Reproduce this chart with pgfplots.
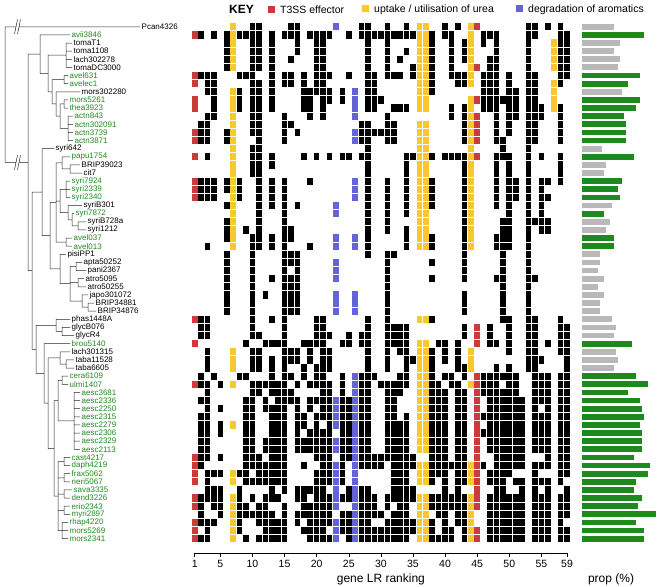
\documentclass[border=0pt]{standalone}
\usepackage{fontspec}
\setmainfont{Liberation Sans}
\usepackage{pgfplots}
\usepackage{pgfplotstable}
\pgfplotsset{compat=1.18}
\definecolor{tred}{HTML}{CC3B3B}
\definecolor{tyel}{HTML}{F7C92E}
\definecolor{tblu}{HTML}{6464D8}
\definecolor{lgreen}{HTML}{1E8A1E}
\definecolor{bgrey}{HTML}{B9B9B9}
\pgfdeclareplotmark{cell}{\pgfpathrectangle{\pgfqpoint{-2.8pt}{-3.65pt}}{\pgfqpoint{5.6pt}{7.3pt}}\pgfusepathqfill}
\newcommand{\lab}{\fontsize{8}{8}\selectfont}
\pgfplotstableread{
c1 c2 c3 c4 c5 c6 c7 c8 c9 c10 c11 c12 c13 c14 c15 c16 c17 c18 c19 c20 c21 c22 c23 c24 c25 c26 c27 c28 c29 c30 c31 c32 c33 c34 c35 c36 c37 c38 c39 c40 c41 c42 c43 c44 c45 c46 c47 c48 c49 c50 c51 c52 c53 c54 c55 c56 c57 c58 c59
0 0 0 0 0 0 1 0 0 1  1 0 0 0 0 1 1 0 0 0  0 0 1 0 0 0 1 1 0 0  1 0 0 1 0 1 1 0 0 1  0 1 0 1 1 0 0 0 0 0  0 0 1 1 0 1 0 1 0
1 1 0 1 0 1 1 1 1 1  1 0 1 0 1 1 1 0 1 1  1 1 0 0 1 0 1 1 1 1  1 1 1 1 1 1 1 1 0 1  1 0 0 1 0 1 1 1 0 0  0 0 1 1 0 0 0 1 1
0 0 0 0 0 1 1 0 0 1  1 0 1 0 0 0 1 0 0 1  1 0 0 0 0 0 0 1 0 0  1 0 0 0 0 1 1 1 0 0  1 0 1 1 0 1 0 1 0 0  0 0 1 0 0 0 1 1 1
0 0 0 0 0 1 1 0 0 1  1 0 1 0 0 0 1 0 0 1  1 0 0 0 0 0 0 1 0 0  1 0 0 1 0 1 1 1 0 0  1 0 1 1 0 0 0 1 0 0  0 0 1 0 0 0 1 1 1
0 0 0 0 0 1 1 0 0 1  1 0 1 0 0 1 0 0 0 1  1 0 0 0 0 0 0 1 0 0  1 0 1 0 0 1 1 1 0 0  1 0 1 1 0 0 1 1 0 0  0 0 1 0 0 0 1 1 1
0 0 0 0 0 1 1 0 0 1  1 0 1 0 0 0 0 0 0 1  1 0 0 0 0 0 0 1 0 0  1 0 0 0 1 1 1 1 0 0  1 0 0 1 1 0 1 1 0 0  0 0 1 0 0 0 1 1 1
1 1 1 1 0 0 0 1 1 1  0 0 1 0 1 1 0 1 0 1  1 1 0 0 1 0 0 1 1 0  1 1 1 0 1 1 1 1 0 0  1 1 1 1 0 1 1 1 0 1  0 0 1 1 0 0 0 1 1
1 0 1 1 0 0 0 0 0 1  1 0 1 0 1 1 0 1 0 1  1 0 0 0 0 0 0 1 1 0  0 0 0 0 0 1 1 1 0 0  0 1 1 1 0 1 1 1 0 1  0 0 1 1 0 0 1 1 0
0 0 1 1 0 0 1 1 0 1  1 0 1 0 0 0 0 1 1 1  1 1 0 1 0 1 0 1 1 0  0 0 0 0 0 1 1 1 0 0  0 0 0 0 0 1 1 1 0 1  1 0 1 1 0 0 1 0 0
1 0 0 1 0 0 1 1 0 1  1 0 1 0 0 0 0 1 1 0  1 1 0 1 0 1 0 1 1 1  0 0 0 0 0 1 1 0 0 0  0 0 0 1 1 1 1 1 1 1  1 0 1 1 0 0 1 0 0
1 0 0 1 0 0 1 1 0 1  1 0 1 0 0 0 0 1 1 0  1 0 0 0 0 1 0 1 1 0  0 1 1 1 0 1 1 0 0 0  1 0 1 1 0 1 1 1 0 1  1 0 1 1 1 0 1 1 0
0 0 1 1 0 0 1 0 0 1  1 0 0 0 1 0 0 0 1 0  1 0 0 0 0 1 0 0 0 0  1 0 0 0 0 0 0 0 0 0  1 0 1 1 1 0 0 1 0 1  1 0 1 1 1 0 0 1 0
0 1 1 0 0 0 1 0 0 1  1 0 0 0 1 1 0 0 0 0  0 0 0 0 0 0 1 1 0 0  1 1 0 0 0 1 1 0 0 0  0 0 1 1 1 0 0 1 0 1  0 0 1 1 0 0 0 1 0
1 1 1 0 0 1 1 0 0 1  1 0 0 0 1 0 1 0 0 0  0 0 0 0 0 1 1 1 1 1  1 1 0 0 0 1 1 0 0 0  0 0 1 1 1 0 0 1 0 1  0 0 1 1 0 0 0 1 0
1 1 1 0 0 1 1 0 0 0  1 0 0 0 1 0 0 0 0 0  0 0 0 0 0 1 1 1 0 0  1 1 0 0 0 1 1 0 0 0  0 0 1 1 1 0 0 1 1 0  0 0 1 1 0 0 0 1 0
0 0 0 0 0 0 1 0 0 1  1 0 0 0 0 0 0 0 0 0  0 0 0 0 0 0 0 1 0 0  0 0 0 0 0 1 1 0 0 0  0 0 0 1 0 0 0 0 1 0  0 0 1 0 0 0 0 0 0
1 0 1 0 0 0 1 0 0 1  1 0 1 0 0 0 0 1 0 1  0 1 0 1 1 0 1 1 0 0  0 0 0 1 1 1 1 1 0 1  1 1 1 1 1 0 0 1 1 1  0 0 1 0 1 0 0 1 0
0 0 0 0 0 0 1 0 0 1  1 0 1 0 0 0 0 0 0 0  0 0 0 0 0 0 0 1 0 0  0 0 0 1 0 1 1 0 0 0  0 0 1 1 0 0 0 1 0 1  0 0 1 0 0 0 0 1 0
0 0 0 0 0 0 1 0 0 1  1 0 0 0 0 0 0 0 0 0  0 0 0 0 0 0 0 1 0 0  0 0 0 1 0 1 1 0 0 0  0 0 1 1 0 0 0 1 0 1  0 0 1 0 0 0 0 1 0
1 1 1 1 0 1 1 1 0 0  1 0 1 0 1 0 0 0 1 0  0 0 0 0 0 1 0 1 0 0  1 0 0 1 0 1 1 1 0 0  0 0 1 1 0 0 0 1 0 1  1 0 1 0 1 1 0 1 0
1 1 1 1 0 1 1 1 0 0  1 0 1 0 1 0 0 0 0 0  0 0 0 0 0 1 0 1 0 0  1 0 0 1 0 1 1 1 0 0  0 0 1 1 0 0 0 1 0 1  1 0 1 0 1 0 0 0 0
1 1 1 1 0 0 1 1 0 0  1 0 1 0 1 0 0 0 0 0  0 0 0 0 0 1 0 1 0 0  1 0 0 1 0 1 1 1 0 0  0 0 1 1 0 0 0 1 0 1  1 0 1 0 1 1 0 0 0
0 0 0 0 0 1 1 0 0 0  1 0 1 0 1 0 1 0 0 0  0 0 1 0 0 0 0 1 0 0  1 0 0 1 0 1 1 1 0 0  0 0 1 1 0 0 0 1 0 1  0 0 1 0 1 0 0 0 0
0 0 0 0 0 0 1 0 0 0  1 0 0 0 1 0 0 0 0 0  0 0 1 0 0 0 0 1 0 0  1 0 0 1 0 1 1 0 0 0  0 0 1 1 0 0 0 0 0 1  0 0 1 0 1 0 0 0 0
0 0 0 0 0 1 1 0 0 0  1 0 0 0 1 0 0 0 0 0  0 0 0 0 0 0 0 1 0 0  1 0 0 0 0 1 1 0 0 0  0 0 1 1 0 0 0 0 1 1  0 0 1 1 1 1 0 0 0
0 0 0 0 0 1 1 0 1 0  1 0 0 0 1 1 0 0 0 0  0 0 0 0 0 0 0 1 0 0  1 0 0 1 0 1 1 0 0 0  0 0 1 1 0 0 0 0 1 1  0 0 1 0 1 1 0 0 0
0 0 0 0 0 1 1 0 0 1  1 0 1 0 1 1 0 0 0 0  0 0 1 0 0 1 0 1 0 0  0 0 0 1 0 1 1 1 0 0  0 0 1 1 0 0 0 1 1 1  0 0 1 0 0 0 0 0 0
0 0 1 0 0 0 1 0 0 1  1 0 1 0 1 0 0 0 1 0  0 0 1 0 0 1 0 1 0 0  0 0 0 1 0 1 1 1 0 0  0 0 1 1 0 0 0 1 1 1  0 0 1 0 0 0 0 0 0
0 0 0 0 0 1 0 0 0 1  0 0 0 0 1 1 1 0 0 0  0 0 0 0 0 0 0 1 0 0  1 1 0 0 0 0 0 0 0 0  0 0 1 0 0 0 0 0 1 0  0 0 1 0 0 0 0 0 0
0 0 0 0 0 1 0 0 0 1  0 0 0 0 1 1 1 0 0 0  0 0 1 0 0 0 0 0 0 0  1 0 0 0 0 0 0 1 0 0  0 0 1 0 0 0 0 0 1 0  0 0 1 0 0 0 0 0 0
0 0 0 0 0 1 0 0 0 1  0 0 0 0 1 0 1 0 0 0  0 0 1 0 0 0 0 0 0 0  1 0 0 0 0 0 0 0 0 0  0 0 1 0 0 0 0 0 1 0  0 0 1 0 0 0 0 0 0
0 0 0 0 0 1 0 0 0 1  0 0 1 0 1 1 1 0 0 0  0 0 1 0 0 0 0 0 0 0  1 0 0 0 0 0 0 1 0 0  0 0 1 0 0 0 0 1 1 0  0 0 1 1 0 0 0 0 0
0 0 0 0 0 1 0 0 0 1  0 0 0 0 1 1 1 0 0 0  0 0 0 0 0 0 0 0 0 0  1 0 0 0 0 0 0 0 0 0  0 0 0 0 0 0 0 0 1 0  0 0 1 0 0 0 0 0 0
0 0 0 0 0 1 0 0 0 1  0 1 0 0 1 1 1 0 0 0  0 0 1 0 0 1 0 0 0 0  1 0 0 0 0 0 0 0 0 0  0 0 1 0 0 0 0 0 1 0  0 0 1 0 0 0 0 0 0
0 0 0 0 0 1 0 0 0 1  0 0 0 0 1 1 1 0 0 0  0 0 1 0 0 1 0 0 0 0  1 0 0 0 0 0 0 0 0 0  0 0 1 0 0 0 0 0 1 0  0 0 1 0 0 0 0 0 0
0 0 0 0 0 1 0 0 0 1  0 0 0 0 1 1 1 0 0 0  0 0 1 0 0 1 0 0 0 0  1 0 0 0 0 0 0 0 0 0  0 0 1 0 0 0 0 0 1 0  0 0 1 0 0 0 0 0 0
1 1 1 0 0 0 0 0 0 1  0 0 1 0 1 0 0 0 0 1  1 0 0 0 0 0 0 1 0 0  1 0 0 0 0 1 1 1 0 0  0 0 0 0 0 0 0 0 1 1  0 0 1 1 0 0 0 1 0
0 1 1 0 0 0 0 0 0 1  0 0 0 0 1 0 0 0 0 1  1 0 0 0 0 0 0 1 0 0  1 1 1 1 0 0 0 0 0 0  0 0 1 0 1 0 1 0 0 1  0 0 1 1 0 0 0 1 1
0 1 1 0 0 0 0 0 0 1  1 0 0 0 1 0 0 0 0 1  1 1 0 0 1 0 1 1 0 0  1 1 1 1 0 0 0 0 0 0  0 0 1 0 1 0 1 0 0 1  0 0 1 1 0 0 0 1 1
1 0 0 0 0 0 0 0 1 0  0 1 1 1 1 0 0 1 1 1  1 0 0 1 1 0 1 1 0 0  1 1 1 1 0 1 1 0 1 1  0 1 0 0 1 0 1 1 0 1  0 0 1 1 0 1 0 1 1
0 0 1 0 0 0 1 0 0 1  1 0 0 0 1 1 1 0 1 0  1 1 0 0 0 0 0 1 0 0  1 0 1 1 0 1 1 1 0 1  0 1 0 1 0 0 0 0 0 1  0 0 1 1 0 0 0 1 1
0 0 1 0 0 0 1 0 0 1  1 0 1 0 1 1 1 0 1 0  1 1 0 0 0 0 0 1 0 0  1 0 0 1 1 1 1 1 0 1  0 1 0 1 0 0 0 0 0 0  0 0 1 1 1 0 0 0 1
0 0 1 0 0 0 1 0 0 1  1 0 1 0 1 0 0 1 0 1  1 1 0 0 0 0 0 1 0 0  1 0 0 1 0 1 1 1 0 0  0 1 1 1 0 0 0 1 0 1  0 0 1 1 0 0 0 0 1
0 1 0 1 0 0 0 1 1 0  0 0 1 0 1 1 0 1 0 1  1 0 0 1 0 1 1 1 1 0  0 0 1 1 0 1 1 1 0 1  1 0 1 0 1 1 1 1 1 1  1 0 0 1 1 1 0 1 1
1 1 1 0 1 0 1 0 0 1  1 1 1 1 1 0 1 0 1 1  1 1 0 1 0 1 1 1 0 1  1 1 1 1 0 1 1 1 1 0  1 1 0 1 1 1 1 1 0 1  1 0 0 1 1 1 0 1 1
0 0 1 0 0 0 0 0 0 1  1 0 1 1 1 1 0 0 0 0  1 1 0 1 0 1 1 1 0 0  1 1 1 0 0 1 1 1 1 1  0 1 1 0 1 1 1 1 1 1  1 0 0 1 1 1 0 1 1
0 1 1 0 0 0 0 0 1 1  0 1 0 1 1 1 1 0 1 1  1 1 1 1 1 1 1 1 0 0  1 1 0 0 0 1 1 1 1 1  0 1 1 0 1 0 1 1 1 1  1 1 0 1 1 1 0 1 1
0 0 1 0 1 0 0 0 1 1  0 1 1 1 1 0 1 0 1 0  1 1 1 1 1 1 1 1 0 0  1 1 0 0 0 1 1 1 1 1  0 1 1 0 1 0 1 1 1 1  1 1 0 1 0 1 0 1 1
0 1 1 0 0 0 0 0 1 1  0 0 1 1 1 0 1 1 0 1  1 1 1 1 1 1 1 1 0 0  1 1 0 1 0 1 1 1 1 1  0 1 1 0 1 1 1 1 1 1  1 1 0 1 1 1 0 1 1
0 1 1 0 1 0 1 0 1 1  0 0 1 1 1 0 1 1 0 1  0 1 1 1 1 1 1 1 0 0  1 1 1 1 0 1 1 1 1 1  0 1 1 0 1 0 1 1 1 1  1 1 0 1 1 1 0 1 1
0 1 1 0 1 0 0 0 1 1  0 0 1 1 1 0 1 0 1 1  1 1 0 1 1 1 1 1 0 0  1 1 1 1 0 1 1 1 1 1  0 1 1 0 1 1 1 1 1 1  1 1 0 1 1 1 0 1 1
0 1 1 0 0 0 0 0 1 1  0 1 1 1 1 0 1 1 1 1  1 1 1 1 1 1 1 1 0 0  1 1 1 1 0 1 1 1 1 1  0 1 1 0 1 0 1 1 1 1  1 1 0 1 1 1 0 1 1
0 1 1 0 0 0 0 0 1 1  0 1 1 1 1 0 1 1 1 1  1 1 1 1 1 1 1 1 0 0  1 1 1 1 0 1 1 1 1 1  0 1 1 0 1 0 1 1 1 1  1 1 0 1 1 1 0 1 1
1 1 1 0 1 0 0 0 1 1  1 0 1 1 1 0 0 0 0 1  1 1 0 1 1 1 1 1 1 1  1 1 1 1 1 0 0 1 1 1  0 1 1 0 1 0 0 1 1 1  1 1 0 0 0 1 0 1 1
1 1 0 0 0 0 0 0 1 1  1 1 1 1 1 0 0 1 0 0  1 1 1 1 0 1 1 1 1 1  0 1 1 1 1 1 1 1 1 1  1 1 1 1 1 1 0 1 1 1  1 1 0 1 1 1 0 1 1
1 0 1 1 1 0 1 1 1 0  1 1 1 1 1 0 0 0 0 1  1 1 1 1 0 1 0 0 0 0  0 1 1 1 0 1 1 1 1 1  0 1 1 1 1 0 1 1 1 1  0 0 0 1 0 0 0 1 1
1 0 1 0 0 0 1 0 1 1  1 1 1 1 1 0 0 0 0 1  1 1 1 1 0 1 0 0 0 0  0 1 1 1 0 1 1 1 0 1  0 1 1 1 1 0 1 1 1 0  1 1 0 1 1 1 0 1 0
0 0 1 1 1 0 0 1 0 0  0 0 1 0 1 0 1 1 1 1  1 0 1 0 1 1 1 1 0 0  0 1 1 1 1 0 0 0 0 1  0 1 0 0 1 0 0 1 1 0  0 1 0 1 0 1 0 0 1
1 1 1 1 1 0 1 1 0 1  0 1 1 1 0 0 1 1 0 1  1 1 1 1 1 1 1 1 1 0  1 1 1 1 1 1 1 1 1 1  1 1 1 1 1 0 1 1 1 1  1 1 0 1 1 1 0 1 1
1 1 0 1 1 0 1 1 1 0  1 1 0 0 1 0 0 1 1 1  1 1 1 0 0 1 1 1 1 0  1 0 1 1 0 1 1 1 1 1  1 1 1 1 1 0 1 1 1 1  1 1 0 1 1 1 0 1 1
0 1 0 0 1 0 1 1 1 1  1 1 1 0 1 0 1 1 1 1  1 1 0 1 1 1 1 1 1 1  0 1 1 1 0 1 1 0 1 1  0 1 1 1 0 0 1 1 1 1  1 1 0 1 1 1 0 1 1
1 1 1 1 0 0 1 1 0 0  1 1 1 1 1 0 1 0 1 1  1 1 1 1 1 1 1 1 0 0  1 1 1 1 1 1 1 1 0 1  0 1 1 1 0 0 1 1 1 1  1 1 0 1 1 1 0 1 0
1 0 1 0 0 0 1 1 0 0  0 1 1 1 1 0 0 1 1 1  1 0 1 1 1 1 1 1 1 1  1 1 1 1 1 1 1 1 0 1  1 0 1 1 1 0 1 1 1 1  1 1 0 1 1 1 0 1 1
1 1 1 0 0 0 1 0 1 0  1 1 1 1 1 0 0 0 1 1  1 1 1 0 1 1 1 1 1 1  1 1 1 1 0 1 1 1 1 1  1 0 1 1 1 0 1 1 1 1  1 1 0 1 1 1 0 1 1
}\hm
\newcommand{\hmcol}[2]{\addplot[only marks, mark=cell, color=#2] table[x expr={194.7+6.42*(#1-1)}, y expr=\coordindex, restrict expr to domain={\thisrow{c#1}}{0.5:1.5}] {\hm};}
\begin{document}
\begin{tikzpicture}
\begin{axis}[at={(0pt,0pt)}, anchor=south west, scale only axis, width=660pt, height=587pt,
  xmin=0, xmax=660, ymin=-3.298, ymax=68.945, y dir=reverse, hide axis, clip=false]
\addplot[draw=none, mark=none] coordinates {(0,-3.298) (660,68.945)};
% heatmap
\pgfplotsinvokeforeach{2,3,4,5,6,8,9,10,11,12,13,14,15,16,17,18,19,20,21,22,24,25,27,28,29,30,31,32,33,34,35,38,39,40,41,42,43,46,47,48,49,50,51,52,53,54,55,56,58,59}{\hmcol{#1}{black}}
\pgfplotsinvokeforeach{1,45}{\hmcol{#1}{tred}}
\pgfplotsinvokeforeach{7,36,37,44,57}{\hmcol{#1}{tyel}}
\pgfplotsinvokeforeach{23,26}{\hmcol{#1}{tblu}}
% x axis of the heatmap
\addplot[black, line width=0.5pt, mark=none, unbounded coords=jump] coordinates {
(194.7,64.76) (567.06,64.76) (0,nan)
(194.7,64.76) (194.7,65.25) (0,nan) (220.38,64.76) (220.38,65.25) (0,nan)
(252.48,64.76) (252.48,65.25) (0,nan) (284.58,64.76) (284.58,65.25) (0,nan)
(316.68,64.76) (316.68,65.25) (0,nan) (348.78,64.76) (348.78,65.25) (0,nan)
(380.88,64.76) (380.88,65.25) (0,nan) (412.98,64.76) (412.98,65.25) (0,nan)
(445.08,64.76) (445.08,65.25) (0,nan) (477.18,64.76) (477.18,65.25) (0,nan)
(509.28,64.76) (509.28,65.25) (0,nan) (541.38,64.76) (541.38,65.25) (0,nan)
(567.06,64.76) (567.06,65.25)
};
\tikzset{tl/.style={font=\fontsize{10.5}{10.5}\selectfont, inner sep=0pt}}
\node[tl] at (axis cs:194.7,66.15) {1};
\node[tl] at (axis cs:220.38,66.15) {5};
\node[tl] at (axis cs:252.48,66.15) {10};
\node[tl] at (axis cs:284.58,66.15) {15};
\node[tl] at (axis cs:316.68,66.15) {20};
\node[tl] at (axis cs:348.78,66.15) {25};
\node[tl] at (axis cs:380.88,66.15) {30};
\node[tl] at (axis cs:412.98,66.15) {35};
\node[tl] at (axis cs:445.08,66.15) {40};
\node[tl] at (axis cs:477.18,66.15) {45};
\node[tl] at (axis cs:509.28,66.15) {50};
\node[tl] at (axis cs:541.38,66.15) {55};
\node[tl] at (axis cs:567.06,66.15) {59};
\node[font=\fontsize{12}{12}\selectfont, inner sep=0pt] at (axis cs:380.88,67.95) {gene LR ranking};
\node[font=\fontsize{12}{12}\selectfont, inner sep=0pt] at (axis cs:611,67.95) {prop (\%)};
% bars
\addplot[lgreen, line width=5.85pt, mark=none, unbounded coords=jump] coordinates {
(582,1) (644,1) (0,nan) (582,6) (640,6) (0,nan) (582,7) (628,7) (0,nan) (582,9) (640,9) (0,nan)
(582,10) (636,10) (0,nan) (582,11) (624,11) (0,nan) (582,12) (626,12) (0,nan) (582,13) (626,13) (0,nan)
(582,14) (626,14) (0,nan) (582,16) (634,16) (0,nan) (582,19) (622,19) (0,nan) (582,20) (618,20) (0,nan)
(582,21) (620,21) (0,nan) (582,23) (604,23) (0,nan) (582,26) (614,26) (0,nan) (582,27) (614,27) (0,nan)
(582,39) (632,39) (0,nan) (582,43) (636,43) (0,nan) (582,44) (648,44) (0,nan) (582,45) (628,45) (0,nan)
(582,46) (640,46) (0,nan) (582,47) (642,47) (0,nan) (582,48) (644,48) (0,nan) (582,49) (640,49) (0,nan)
(582,50) (642,50) (0,nan) (582,51) (642,51) (0,nan) (582,52) (642,52) (0,nan) (582,53) (634,53) (0,nan)
(582,54) (650,54) (0,nan) (582,55) (648,55) (0,nan) (582,56) (636,56) (0,nan) (582,57) (634,57) (0,nan)
(582,58) (642,58) (0,nan) (582,59) (638,59) (0,nan) (582,60) (656,60) (0,nan) (582,61) (636,61) (0,nan)
(582,62) (644,62) (0,nan) (582,63) (644,63)
};
\addplot[bgrey, line width=5.85pt, mark=none, unbounded coords=jump] coordinates {
(582,0) (614,0) (0,nan) (582,2) (620,2) (0,nan) (582,3) (614,3) (0,nan) (582,4) (620,4) (0,nan)
(582,5) (618,5) (0,nan) (582,8) (622,8) (0,nan) (582,15) (602,15) (0,nan) (582,17) (606,17) (0,nan)
(582,18) (604,18) (0,nan) (582,22) (612,22) (0,nan) (582,24) (610,24) (0,nan) (582,25) (606,25) (0,nan)
(582,28) (600,28) (0,nan) (582,29) (600,29) (0,nan) (582,30) (598,30) (0,nan) (582,31) (604,31) (0,nan)
(582,32) (598,32) (0,nan) (582,33) (604,33) (0,nan) (582,34) (600,34) (0,nan) (582,35) (600,35) (0,nan)
(582,36) (612,36) (0,nan) (582,37) (616,37) (0,nan) (582,38) (614,38) (0,nan) (582,40) (616,40) (0,nan)
(582,41) (618,41) (0,nan) (582,42) (614,42)
};
% tree
\addplot[black!85, line width=0.5pt, unbounded coords=jump, mark=none] coordinates {
(140,0) (19,0) (0,nan) (16,0) (5,0) (5,16.7) (16,16.7) (0,nan) (19,16.7) (28,16.7) (0,nan)
(14.5,0.9) (17.5,-0.9) (0,nan) (17.5,0.9) (20.5,-0.9) (0,nan)
(14.5,17.6) (17.5,15.8) (0,nan) (17.5,17.6) (20.5,15.8) (0,nan)
(40,3.375) (28,3.375) (28,30) (32,30) (0,nan)
(42,20.35) (32,20.35) (32,39.7) (36,39.7) (0,nan)
(70,1) (40,1) (40,5.75) (48,5.75) (0,nan)
(66,3.5) (48,3.5) (48,8) (52,8) (0,nan)
(72,2) (66,2) (66,5) (72,5) (0,nan) (66,3) (72,3) (0,nan) (66,4) (72,4) (0,nan)
(64,6.5) (52,6.5) (52,9.5) (56,9.5) (0,nan)
(68,6) (64,6) (64,7) (68,7) (0,nan)
(80,8) (56,8) (56,11) (60,11) (0,nan)
(64,9.5) (60,9.5) (60,12.5) (68,12.5) (0,nan)
(68,9) (64,9) (64,10) (68,10) (0,nan)
(73,11) (68,11) (68,14) (73,14) (0,nan) (68,12) (73,12) (0,nan) (68,13) (73,13) (0,nan)
(54,15) (42,15) (42,25.7) (50,25.7) (0,nan)
(56,21.6) (50,21.6) (50,29.8) (60,29.8) (0,nan)
(62,16.75) (56,16.75) (56,26.5) (66,26.5) (0,nan) (56,21.44) (60,21.44) (0,nan)
(70,16) (62,16) (62,17.5) (70,17.5) (0,nan)
(80,17) (70,17) (70,18) (82,18) (0,nan)
(66,20) (60,20) (60,22.875) (68,22.875) (0,nan)
(70,19) (66,19) (66,21) (70,21) (0,nan) (66,20) (70,20) (0,nan)
(82,22) (68,22) (68,23.75) (72,23.75) (0,nan)
(74,23) (72,23) (72,24.5) (78,24.5) (0,nan)
(86,24) (78,24) (78,25) (86,25) (0,nan)
(72,26) (66,26) (66,27) (72,27) (0,nan)
(66,28) (60,28) (60,31.6) (70,31.6) (0,nan)
(76,29.5) (70,29.5) (70,33.75) (82,33.75) (0,nan) (70,31.5) (78,31.5) (0,nan)
(82,29) (76,29) (76,30) (86,30) (0,nan)
(84,31) (78,31) (78,32) (86,32) (0,nan)
(88,33) (82,33) (82,34.5) (88,34.5) (0,nan)
(94,34) (88,34) (88,35) (96,35) (0,nan)
(56,36.75) (36,36.75) (36,42.65) (44,42.65) (0,nan)
(70,36) (56,36) (56,37.5) (62,37.5) (0,nan)
(70,37) (62,37) (62,38) (74,38) (0,nan)
(70,39) (44,39) (44,46.3) (48,46.3) (0,nan)
(60,40.75) (48,40.75) (48,51.9) (54,51.9) (0,nan)
(70,40) (60,40) (60,41.5) (66,41.5) (0,nan)
(74,41) (66,41) (66,42) (74,42) (0,nan)
(58,46) (54,46) (54,57.75) (58,57.75) (0,nan)
(62,43.5) (58,43.5) (58,48.5) (74,48.5) (0,nan)
(68,43) (62,43) (62,44) (68,44) (0,nan)
(80,45) (74,45) (74,52) (80,52) (0,nan)
(74,46) (80,46) (0,nan) (74,47) (80,47) (0,nan) (74,48) (80,48) (0,nan) (74,49) (80,49) (0,nan) (74,50) (80,50) (0,nan) (74,51) (80,51) (0,nan)
(64,53.5) (58,53.5) (58,62) (62,62) (0,nan) (58,55.5) (64,55.5) (0,nan) (58,57.5) (64,57.5) (0,nan) (58,59.5) (64,59.5) (0,nan)
(70,53) (64,53) (64,54) (70,54) (0,nan)
(70,55) (64,55) (64,56) (70,56) (0,nan)
(72,57) (64,57) (64,58) (70,58) (0,nan)
(70,59) (64,59) (64,60) (70,60) (0,nan)
(68,61) (62,61) (62,63) (68,63) (0,nan) (62,62) (68,62)
};
\tikzset{lb/.style={anchor=west, inner sep=0pt, font=\lab}, lg/.style={lb, text=lgreen}}
\node[lb] at (axis cs:141.5,0) {Pcan4326};
\node[lg] at (axis cs:71.5,1) {avii3846};
\node[lb] at (axis cs:73.5,2) {tomaT1};
\node[lb] at (axis cs:73.5,3) {toma1108};
\node[lb] at (axis cs:73.5,4) {lach302278};
\node[lb] at (axis cs:73.5,5) {tomaDC3000};
\node[lg] at (axis cs:69.5,6) {avel631};
\node[lg] at (axis cs:69.5,7) {avelec1};
\node[lb] at (axis cs:81.5,8) {mors302280};
\node[lg] at (axis cs:69.5,9) {mors5261};
\node[lg] at (axis cs:69.5,10) {thea3923};
\node[lg] at (axis cs:74.5,11) {actn843};
\node[lg] at (axis cs:74.5,12) {actn302091};
\node[lg] at (axis cs:74.5,13) {actn3739};
\node[lg] at (axis cs:74.5,14) {actn3871};
\node[lb] at (axis cs:55.5,15) {syri642};
\node[lg] at (axis cs:71.5,16) {papu1754};
\node[lb] at (axis cs:81.5,17) {BRIP39023};
\node[lb] at (axis cs:83.5,18) {cit7};
\node[lg] at (axis cs:71.5,19) {syri7924};
\node[lg] at (axis cs:71.5,20) {syri2339};
\node[lg] at (axis cs:71.5,21) {syri2340};
\node[lb] at (axis cs:83.5,22) {syriB301};
\node[lg] at (axis cs:75.5,23) {syri7872};
\node[lb] at (axis cs:87.5,24) {syriB728a};
\node[lb] at (axis cs:87.5,25) {syri1212};
\node[lg] at (axis cs:73.5,26) {avel037};
\node[lg] at (axis cs:73.5,27) {avel013};
\node[lb] at (axis cs:67.5,28) {pisiPP1};
\node[lb] at (axis cs:83.5,29) {apta50252};
\node[lb] at (axis cs:87.5,30) {pani2367};
\node[lb] at (axis cs:85.5,31) {atro5095};
\node[lb] at (axis cs:87.5,32) {atro50255};
\node[lb] at (axis cs:89.5,33) {japo301072};
\node[lb] at (axis cs:95.5,34) {BRIP34881};
\node[lb] at (axis cs:97.5,35) {BRIP34876};
\node[lb] at (axis cs:71.5,36) {phas1448A};
\node[lb] at (axis cs:71.5,37) {glycB076};
\node[lb] at (axis cs:75.5,38) {glycR4};
\node[lg] at (axis cs:71.5,39) {brou5140};
\node[lb] at (axis cs:71.5,40) {lach301315};
\node[lb] at (axis cs:75.5,41) {taba11528};
\node[lb] at (axis cs:75.5,42) {taba6605};
\node[lg] at (axis cs:69.5,43) {cera6109};
\node[lg] at (axis cs:69.5,44) {ulmi1407};
\node[lg] at (axis cs:81.5,45) {aesc3681};
\node[lg] at (axis cs:81.5,46) {aesc2336};
\node[lg] at (axis cs:81.5,47) {aesc2250};
\node[lg] at (axis cs:81.5,48) {aesc2315};
\node[lg] at (axis cs:81.5,49) {aesc2279};
\node[lg] at (axis cs:81.5,50) {aesc2306};
\node[lg] at (axis cs:81.5,51) {aesc2329};
\node[lg] at (axis cs:81.5,52) {aesc2113};
\node[lg] at (axis cs:71.5,53) {cast4217};
\node[lg] at (axis cs:71.5,54) {daph4219};
\node[lg] at (axis cs:71.5,55) {frax5062};
\node[lg] at (axis cs:71.5,56) {neri5067};
\node[lg] at (axis cs:73.5,57) {sava3335};
\node[lg] at (axis cs:71.5,58) {dend3226};
\node[lg] at (axis cs:71.5,59) {erio2343};
\node[lg] at (axis cs:71.5,60) {myri2897};
\node[lg] at (axis cs:69.5,61) {rhap4220};
\node[lg] at (axis cs:69.5,62) {mors5269};
\node[lg] at (axis cs:69.5,63) {mors2341};
% key
\tikzset{ky/.style={anchor=west, inner sep=0pt, font=\fontsize{10.5}{10.5}\selectfont}}
\node[anchor=west, inner sep=0pt, font=\bfseries\fontsize{12}{12}\selectfont] at (axis cs:229,-2.13) {KEY};
\node[ky] at (axis cs:268,-2.13) {\textcolor{tred}{\rule{7pt}{7pt}}\hspace{5pt}T3SS effector};
\node[ky] at (axis cs:362,-2.13) {\textcolor{tyel}{\rule{7pt}{7pt}}\hspace{5pt}uptake / utilisation of urea};
\node[ky] at (axis cs:516,-2.13) {\textcolor{tblu}{\rule{7pt}{7pt}}\hspace{5pt}degradation of aromatics};
\end{axis}
\end{tikzpicture}
\end{document}
